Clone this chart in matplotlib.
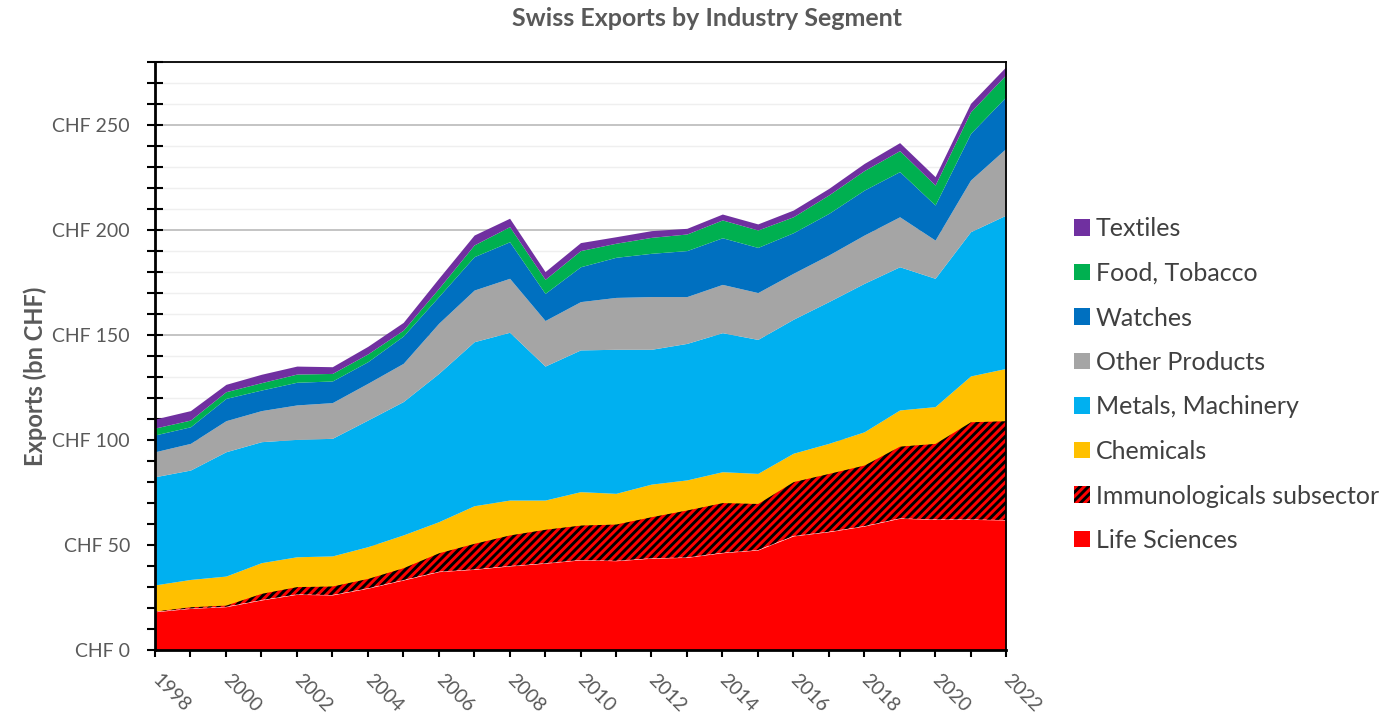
import matplotlib
matplotlib.use("Agg")
import matplotlib.pyplot as plt
import matplotlib.transforms as mtransforms
import numpy as np
from matplotlib.patches import Patch
from matplotlib.ticker import MultipleLocator

years = list(range(1998, 2023))

# bn CHF per segment (bottom -> top)
life_sciences = [18.2, 19.8, 20.6, 23.8, 26.5, 26.2, 29.4, 33.3, 37.3, 38.4, 40.0, 41.3, 42.9,
                 42.5, 43.7, 44.1, 46.3, 47.6, 54.3, 56.3, 59.0, 62.7, 62.2, 62.2, 61.9]
immuno = [0.4, 0.8, 0.8, 3.2, 3.7, 4.3, 4.7, 5.9, 9.0, 12.4, 14.8, 16.2, 16.6,
          17.5, 19.8, 22.6, 23.9, 22.2, 25.9, 27.8, 29.1, 34.4, 36.2, 46.5, 47.3]
chemicals = [12.4, 13.0, 13.8, 14.6, 14.2, 14.3, 15.1, 15.6, 14.8, 17.9, 16.6, 13.9, 15.9,
             14.6, 15.5, 14.3, 14.7, 14.3, 13.5, 14.3, 15.8, 17.2, 17.5, 21.8, 24.9]
metals = [51.5, 52.1, 59.2, 57.6, 55.9, 56.0, 60.3, 63.5, 70.6, 78.1, 79.9, 63.8, 67.5,
          68.6, 64.2, 65.0, 66.2, 63.8, 63.8, 67.5, 70.7, 68.2, 61.1, 68.7, 73.0]
other = [11.9, 12.7, 14.8, 14.8, 16.4, 17.0, 17.5, 18.2, 23.9, 24.6, 25.7, 21.7, 23.0,
         24.7, 25.1, 22.3, 23.0, 22.3, 21.9, 22.2, 23.0, 23.8, 18.2, 24.6, 31.8]
watches = [8.0, 7.9, 10.6, 9.8, 10.8, 10.3, 10.3, 13.0, 12.7, 15.9, 17.4, 12.9, 16.6,
           19.1, 20.6, 21.9, 22.2, 21.5, 19.3, 19.8, 21.4, 21.5, 16.7, 22.2, 24.6]
food = [3.3, 3.2, 3.2, 3.5, 3.9, 3.6, 3.7, 2.8, 3.9, 5.6, 7.2, 6.7, 7.7,
        6.7, 7.6, 7.9, 8.5, 8.3, 7.6, 8.8, 9.3, 10.0, 9.5, 10.3, 10.5]
textiles = [4.3, 4.5, 3.5, 4.0, 3.8, 3.2, 3.6, 3.7, 4.8, 4.7, 4.0, 3.7, 3.8,
            3.1, 3.2, 2.7, 2.8, 2.9, 3.2, 3.1, 3.4, 3.8, 4.0, 4.0, 3.8]

series = [
    ("Life Sciences", life_sciences, "#FF0000", None),
    ("Immunologicals subsector", immuno, "#FF0000", "////"),
    ("Chemicals", chemicals, "#FFC000", None),
    ("Metals, Machinery", metals, "#00B0F0", None),
    ("Other Products", other, "#A5A5A5", None),
    ("Watches", watches, "#0070C0", None),
    ("Food, Tobacco", food, "#00B050", None),
    ("Textiles", textiles, "#7030A0", None),
]

plt.rcParams["font.family"] = ["Lato", "DejaVu Sans"]
plt.rcParams["hatch.linewidth"] = 2.1
plt.rcParams["hatch.color"] = "black"

fig = plt.figure(figsize=(13.91, 7.16), dpi=100)
ax = fig.add_axes([155 / 1391, 66 / 716, 851 / 1391, 588 / 716])

x = np.array(years)
base = np.zeros(len(years))
handles = []
for name, vals, color, hatch in series:
    top = base + np.array(vals)
    ax.fill_between(x, base, top, facecolor=color, edgecolor="black" if hatch else color,
                    linewidth=0, hatch=hatch, zorder=2)
    handles.append(Patch(facecolor=color, edgecolor="black" if hatch else color,
                         linewidth=0, hatch=hatch, label=name))
    base = top

ax.set_xlim(1998, 2022)
ax.set_ylim(0, 280)
ax.yaxis.set_major_locator(MultipleLocator(50))
ax.yaxis.set_minor_locator(MultipleLocator(10))
ax.set_yticklabels([f"CHF {int(v)}" for v in ax.get_yticks()])
ax.set_xticks(years[::2])
ax.set_xticks(years, minor=True)
ax.set_xticklabels([str(y) for y in years[::2]], rotation=-45, ha="left",
                   rotation_mode="anchor")
ax.grid(which="major", axis="y", color="#BFBFBF", lw=1.3, zorder=0)
ax.grid(which="minor", axis="y", color="#EFEFEF", lw=1.0, zorder=0)
ax.set_axisbelow(True)

ax.tick_params(axis="y", which="both", direction="inout", length=12, width=1.5,
               color="black", labelsize=14, labelcolor="#595959", pad=12)
ax.tick_params(axis="x", which="both", direction="out", length=5, width=1.5,
               color="black", labelsize=14, labelcolor="#595959", pad=9)

# nudge the rotated year labels so they start right at their tick
shift = mtransforms.ScaledTranslation(0.06, -0.02, fig.dpi_scale_trans)
for lab in ax.get_xticklabels():
    lab.set_transform(lab.get_transform() + shift)

for side in ["left", "bottom"]:
    ax.spines[side].set_linewidth(2)
for side in ["top", "right"]:
    ax.spines[side].set_linewidth(1.3)

fig.text(707 / 1391, 1 - 19 / 716, "Swiss Exports by Industry Segment", ha="center",
         va="center", fontsize=18, fontweight="bold", color="#595959")
fig.text(35 / 1391, 1 - 376 / 716, "Exports (bn CHF)", rotation=90, ha="center",
         va="center", fontsize=17, fontweight="bold", color="#595959")

leg = fig.legend(handles=handles[::-1], loc="upper left",
                 bbox_to_anchor=(1061 / 1391, 1 - 205 / 716), frameon=False,
                 fontsize=18, handlelength=0.64, handleheight=0.64,
                 handletextpad=0.25, labelspacing=0.86, borderpad=0)
for t in leg.get_texts():
    t.set_color("#404040")

fig.savefig("out.png", dpi=100)
